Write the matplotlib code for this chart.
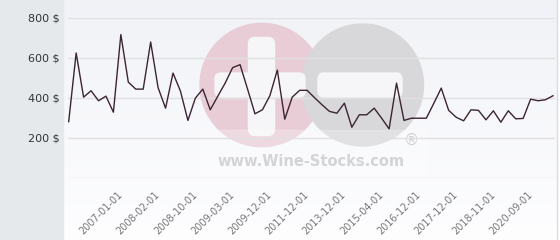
import numpy as np
import matplotlib.pyplot as plt
from matplotlib.patches import Circle, Rectangle, FancyBboxPatch

# prices, one per point (evenly spaced categories)
prices = [281, 623, 403, 435, 385, 408, 328, 715, 478, 443,
          443, 678, 450, 348, 523, 433, 287, 398, 443, 340,
          407, 473, 550, 565, 444, 320, 340, 410, 538, 293,
          403, 437, 437, 400, 365, 332, 323, 373, 253, 315,
          315, 348, 298, 245, 473, 287, 298, 298, 298, 372,
          448, 337, 303, 285, 340, 337, 290, 335, 278, 335,
          295, 297, 393, 385, 390, 410]
tick_labels = ["2007-01-01", "2008-02-01", "2008-10-01", "2009-03-01",
               "2009-12-01", "2011-12-01", "2013-12-01", "2015-04-01",
               "2016-12-01", "2017-12-01", "2018-11-01", "2020-09-01"]
tick_index = [7 + 5 * k for k in range(len(tick_labels))]
y_ticks = [0, 200, 400, 600, 800]
y_labels = ["", "200 $", "400 $", "600 $", "800 $"]

fig = plt.figure(figsize=(5.6, 2.4), dpi=100)

# background layer in pixel coordinates (panel, gradient, watermark)
bg = fig.add_axes([0, 0, 1, 1])
bg.set_xlim(0, 560)
bg.set_ylim(240, 0)
bg.axis("off")
grad = np.linspace(0, 1, 100)[:, None]
top = np.array([0.945, 0.950, 0.968])
bot = np.array([0.995, 0.995, 1.0])
img = top + (bot - top) * grad[..., None]
bg.imshow(np.repeat(img, 2, axis=1), extent=(63.5, 556, 240, 0), aspect="auto", zorder=0)
bg.add_patch(Rectangle((0, 0), 62.5, 240, color="#e6e9ec", zorder=1))
bg.plot([556.5, 556.5], [0, 240], color="#dcdcdc", lw=1, zorder=1)

# watermark logo
bg.add_patch(Circle((261.7, 85), 61.7, color="#e9cdd6", zorder=2))
bg.add_patch(Circle((362.5, 85), 61, color="#d8d8da", zorder=3))
white = "#f6f6f8"
bg.add_patch(FancyBboxPatch((255, 44), 13, 85, boxstyle="round,pad=6.5", color=white, zorder=4))
bg.add_patch(FancyBboxPatch((221, 79), 78, 12, boxstyle="round,pad=6", color=white, zorder=4))
bg.add_patch(FancyBboxPatch((324, 79), 72, 12, boxstyle="round,pad=6", color=white, zorder=4))
bg.add_patch(Rectangle((200, 130), 227, 43, color="white", alpha=0.25, zorder=4))
bg.text(311.5, 162, "www.Wine-Stocks.com", ha="center", va="center", fontsize=10.5,
        fontweight="bold", color="#d4d4d6", zorder=5)
bg.text(412, 140, "®", ha="center", va="center", fontsize=11, color="#d0d0d2", zorder=5)

# main chart
ax = fig.add_axes([68 / 560, 62 / 240, 487 / 560, 160.5 / 240])
ax.set_facecolor("none")
x = np.arange(len(prices))
ax.plot(x, prices, color="#3b2433", lw=1.0, zorder=3)
ax.set_xlim(-0.094, 65.27)
ax.set_ylim(0, 800)
ax.set_yticks(y_ticks)
ax.set_yticklabels(y_labels, fontsize=8, color="#333333")
ax.set_xticks(tick_index)
ax.set_xticklabels(tick_labels, fontsize=7, color="#777777", rotation=45,
                   ha="right", va="center", rotation_mode="anchor")
ax.tick_params(axis="both", length=0)
ax.tick_params(axis="y", pad=6)
ax.tick_params(axis="x", pad=11)
ax.grid(axis="y", color="#e0e0e0", lw=1)
ax.set_axisbelow(True)
for s in ax.spines.values():
    s.set_visible(False)

fig.savefig("out.png", dpi=100)
